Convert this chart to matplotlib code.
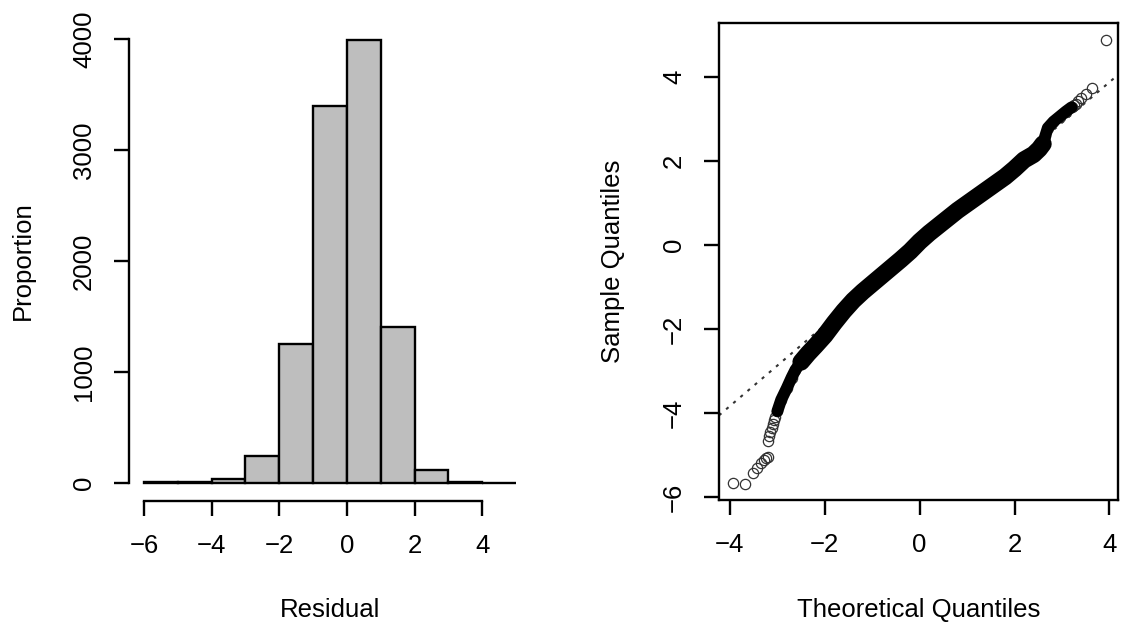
import matplotlib
matplotlib.use('Agg')
import matplotlib.pyplot as plt
import numpy as np

plt.rcParams['font.family'] = ['Liberation Sans', 'DejaVu Sans']

# ---- Histogram data ----
hist_edges = [-6, -5, -4, -3, -2, -1, 0, 1, 2, 3, 4, 5]
hist_counts = [7, 7, 36, 248, 1252, 3396, 3986, 1410, 122, 14, 1]
hist_xticks = [-6, -4, -2, 0, 2, 4]
hist_yticks = [0, 1000, 2000, 3000, 4000]

# ---- Q-Q plot data ----
band_theoretical = [-3.00, -2.92, -2.80, -2.70, -2.62, -2.50, -2.35, -2.20, -2.00,
                    -1.80, -1.60, -1.40, -1.20, -1.00, -0.80, -0.60, -0.40, -0.20,
                    0.00, 0.20, 0.40, 0.60, 0.80, 1.00, 1.20, 1.40, 1.60, 1.80,
                    2.00, 2.20, 2.40, 2.52, 2.60, 2.65, 2.70, 2.82, 2.95, 3.08, 3.20]
band_sample = [-3.95, -3.68, -3.40, -3.15, -2.97, -2.78, -2.58, -2.40, -2.15,
               -1.85, -1.57, -1.32, -1.11, -0.92, -0.73, -0.54, -0.35, -0.15,
               0.08, 0.28, 0.46, 0.64, 0.82, 0.98, 1.14, 1.30, 1.46, 1.62,
               1.81, 2.02, 2.15, 2.28, 2.40, 2.60, 2.78, 2.93, 3.05, 3.17, 3.27]
tail_theoretical = [-3.94, -3.68, -3.52, -3.42, -3.34, -3.28, -3.23, -3.20, -3.20,
                    -3.17, -3.15, -3.12, -3.10, -3.07, -3.05,
                    3.26, 3.30, 3.34, 3.41, 3.50, 3.64, 3.92]
tail_sample = [-5.66, -5.68, -5.43, -5.31, -5.17, -5.10, -5.07, -5.05, -4.67,
               -4.55, -4.45, -4.35, -4.25, -4.15, -4.08,
               3.32, 3.36, 3.41, 3.49, 3.59, 3.72, 4.87]
qqline_intercept = 0.02
qqline_slope = 0.962
qq_xticks = [-4, -2, 0, 2, 4]
qq_yticks = [-6, -4, -2, 0, 2, 4]

W, H = 1123, 628
fig = plt.figure(figsize=(W / 100, H / 100), dpi=100)
fig.patch.set_facecolor('white')


def ax_at(l, t, r, b):
    return fig.add_axes([l / W, 1 - b / H, (r - l) / W, (b - t) / H])


FS = 18.5
TICKLEN = 10.8
LW = 1.7

# ---- Left: histogram ----
ax1 = ax_at(129, 21, 531, 501)
ax1.bar(hist_edges[:-1], hist_counts, width=np.diff(hist_edges), align='edge',
        color='#BEBEBE', edgecolor='black', linewidth=LW)
ax1.set_xlim(-6.44, 5.44)
ax1.set_ylim(-160, 4160)
for s in ['top', 'right']:
    ax1.spines[s].set_visible(False)
ax1.spines['left'].set_bounds(hist_yticks[0], hist_yticks[-1])
ax1.spines['bottom'].set_bounds(hist_xticks[0], hist_xticks[-1])
for s in ['left', 'bottom']:
    ax1.spines[s].set_linewidth(LW)
ax1.set_xticks(hist_xticks)
ax1.set_yticks(hist_yticks)
ax1.tick_params(length=TICKLEN, width=LW, labelsize=FS, pad=13)
for lbl in ax1.get_yticklabels():
    lbl.set_rotation(90)
    lbl.set_va('center')
ax1.set_xlabel('Residual', fontsize=FS)
ax1.set_ylabel('Proportion', fontsize=FS)
ax1.xaxis.set_label_coords(0.5, (501 - 610) / 480)
ax1.xaxis.label.set_va('center')
ax1.yaxis.set_label_coords((23 - 129) / 402, 0.5)
ax1.yaxis.label.set_va('center')

# ---- Right: Q-Q plot ----
ax2 = ax_at(719, 22.7, 1118, 500)
ax2.set_xlim(-4.23, 4.18)
ax2.set_ylim(-6.06, 5.28)
bt = np.array(band_theoretical)
bs = np.array(band_sample)
ax2.axline((0, qqline_intercept), slope=qqline_slope, color='#333333', lw=1.5,
           dashes=(1.5, 3.0), zorder=1.5)
ax2.plot(np.concatenate([bt, tail_theoretical]), np.concatenate([bs, tail_sample]),
         linestyle='none', marker='o', ms=7.4, mfc='none', mec='#333333', mew=0.9, zorder=2)
ax2.plot(bt, bs, color='black', lw=8.5, solid_capstyle='round',
         solid_joinstyle='round', zorder=3)
core = (bt >= -2.5) & (bt <= 2.6)
ax2.plot(bt[core], bs[core], color='black', lw=12.5, solid_capstyle='round',
         solid_joinstyle='round', zorder=3)
for s in ax2.spines.values():
    s.set_linewidth(LW)
ax2.set_xticks(qq_xticks)
ax2.set_yticks(qq_yticks)
ax2.tick_params(length=TICKLEN, width=LW, labelsize=FS, pad=13)
for lbl in ax2.get_yticklabels():
    lbl.set_rotation(90)
    lbl.set_va('center')
ax2.set_xlabel('Theoretical Quantiles', fontsize=FS)
ax2.set_ylabel('Sample Quantiles', fontsize=FS)
ax2.xaxis.set_label_coords(0.5, (500 - 610) / 477.3)
ax2.xaxis.label.set_va('center')
ax2.yaxis.set_label_coords((613 - 719) / 399, 0.5)
ax2.yaxis.label.set_va('center')

fig.savefig('out.png', dpi=100)
